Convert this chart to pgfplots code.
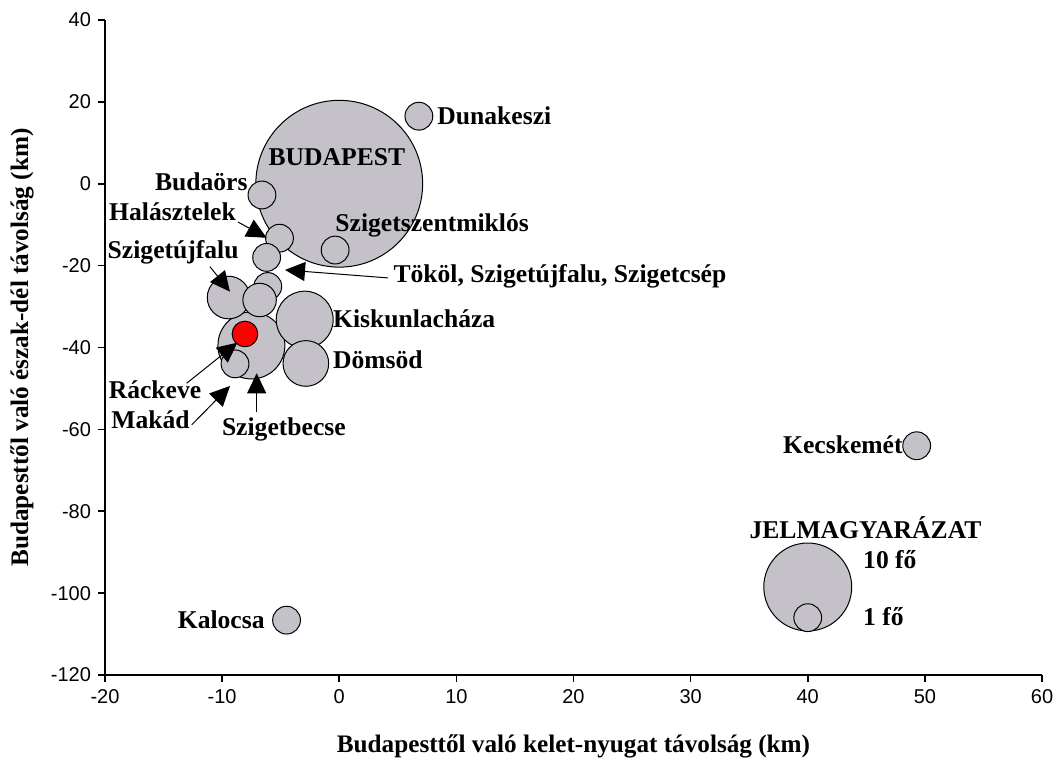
\documentclass[border=0pt]{standalone}
\usepackage{fontspec}
\setmainfont{Liberation Serif}
\newfontfamily\arialfont{Liberation Sans}
\usepackage{pgfplots}
\usepackage{pgfplotstable}
\pgfplotsset{compat=1.18}
\usetikzlibrary{arrows.meta}
\definecolor{bub}{RGB}{196,194,200}

% x y n (n = bubble size, number of people)
\pgfplotstableread{
x y n
0 0 36
-7.5 -39.5 5.8
-2.95 -33.2 4.2
-2.85 -43.9 2.7
-9.45 -27.8 2.35
-6.1 -25.1 1
-6.8 -28.4 1.45
-8.9 -44.0 1
-6.6 -2.75 1
-5.1 -13.3 1
-6.2 -18.0 1
-0.35 -16.2 1
6.8 16.5 1
49.3 -64.0 1
-4.5 -106.6 1
40 -98.5 10
40 -106.0 1
}\bubbles

\pgfplotstableread{
x y n
-8.05 -36.7 0.85
}\redbubble

\begin{document}
\begin{tikzpicture}[lbl/.style={font=\fontsize{12.8}{15}\selectfont\bfseries, inner sep=0pt, text=black},
  arr/.style={-{Triangle[length=10pt,width=9.5pt]}, line width=0.5pt}]
\begin{axis}[
  name=ax,
  at={(0,0)}, anchor=south west,
  scale only axis,
  width=468.5pt, height=327.5pt,
  xmin=-20, xmax=60, ymin=-120, ymax=40,
  xtick={-20,-10,...,60}, ytick={-120,-100,...,40},
  axis x line*=bottom, axis y line*=left,
  axis line style={line width=0.8pt, -},
  tick style={line width=0.8pt, black},
  tick align=outside,
  major tick length=3.5pt,
  /pgf/number format/assume math mode=true,
  ticklabel style={font=\arialfont\fontsize{10}{12}\selectfont},
  clip=false,
]
\addplot[scatter, only marks, mark=*,
  scatter/use mapped color={draw=black, fill=bub},
  visualization depends on={6.95*sqrt(\thisrow{n}) \as \rad},
  scatter/@pre marker code/.append style={/tikz/mark size=\rad},
  mark options={line width=0.5pt}]
  table[x=x, y=y, meta=n] {\bubbles};
\addplot[scatter, only marks, mark=*,
  scatter/use mapped color={draw=black, fill=red},
  visualization depends on={6.95*sqrt(\thisrow{n}) \as \rad},
  scatter/@pre marker code/.append style={/tikz/mark size=\rad},
  mark options={line width=0.5pt}]
  table[x=x, y=y, meta=n] {\redbubble};

% anchor coordinates for annotations
\coordinate (a1s) at (axis cs:-8.65,-9.34);   \coordinate (a1e) at (axis cs:-6.2,-13.2);
\coordinate (a2s) at (axis cs:4.16,-23.0);    \coordinate (a2e) at (axis cs:-4.63,-21.06);
\coordinate (a3s) at (axis cs:-11.04,-20.26); \coordinate (a3e) at (axis cs:-9.33,-26.37);
\coordinate (a4s) at (axis cs:-13.03,-48.74); \coordinate (a4e) at (axis cs:-8.7,-38.82);
\coordinate (a5s) at (axis cs:-12.6,-58.9);   \coordinate (a5e) at (axis cs:-9.33,-49.4);
\coordinate (a6s) at (axis cs:-7.05,-55.75);  \coordinate (a6e) at (axis cs:-7.05,-46.3);

\coordinate (l1) at (axis cs:8.35,16.5);
\coordinate (l2) at (axis cs:-0.2,6.4);
\coordinate (l3) at (axis cs:-7.8,0.5);
\coordinate (l4) at (axis cs:-8.8,-6.9);
\coordinate (l5) at (axis cs:-0.36,-10.1);
\coordinate (l6) at (axis cs:4.6,-22.5);
\coordinate (l7) at (axis cs:-19.8,-16.7);
\coordinate (l8) at (axis cs:-0.56,-33.1);
\coordinate (l9) at (axis cs:-0.56,-43.05);
\coordinate (l10) at (axis cs:-11.75,-50.4);
\coordinate (l11) at (axis cs:-12.74,-57.7);
\coordinate (l12) at (axis cs:-4.73,-60.1);
\coordinate (l13) at (axis cs:48.13,-63.8);
\coordinate (l14) at (axis cs:-6.34,-106.6);
\coordinate (l15) at (axis cs:44.93,-84.1);
\coordinate (l16) at (axis cs:44.7,-91.9);
\coordinate (l17) at (axis cs:44.7,-105.75);
\end{axis}

% arrows
\draw[arr] (a1s) -- (a1e);
\draw[arr] (a2s) -- (a2e);
\draw[arr] (a3s) -- (a3e);
\draw[arr] (a4s) -- (a4e);
\draw[arr] (a5s) -- (a5e);
\draw[arr] (a6s) -- (a6e);

% labels
\node[lbl, anchor=west] at (l1) {Dunakeszi};
\node[lbl] at (l2) {BUDAPEST};
\node[lbl, anchor=east] at (l3) {Budaörs};
\node[lbl, anchor=east] at (l4) {Halásztelek};
\node[lbl, anchor=west] at (l5) {Szigetszentmiklós};
\node[lbl, anchor=west] at (l6) {Tököl, Szigetújfalu, Szigetcsép};
\node[lbl, anchor=west] at (l7) {Szigetújfalu};
\node[lbl, anchor=west] at (l8) {Kiskunlacháza};
\node[lbl, anchor=west] at (l9) {Dömsöd};
\node[lbl, anchor=east] at (l10) {Ráckeve};
\node[lbl, anchor=east] at (l11) {Makád};
\node[lbl] at (l12) {Szigetbecse};
\node[lbl, anchor=east] at (l13) {Kecskemét};
\node[lbl, anchor=east] at (l14) {Kalocsa};
\node[lbl] at (l15) {JELMAGYARÁZAT};
\node[lbl, anchor=west] at (l16) {10 fő};
\node[lbl, anchor=west] at (l17) {1 fő};

\node[font=\fontsize{12.6}{15}\selectfont\bfseries] at ([yshift=-35.5pt]ax.south) {Budapesttől való kelet-nyugat távolság (km)};
\node[font=\fontsize{12.6}{15}\selectfont\bfseries, rotate=90] at ([xshift=-41.5pt]ax.west) {Budapesttől való észak-dél távolság (km)};
\pgfresetboundingbox
\useasboundingbox ([xshift=-52.5pt,yshift=-44pt]ax.south west) rectangle ([xshift=8pt,yshift=10pt]ax.north east);
\end{tikzpicture}
\end{document}
